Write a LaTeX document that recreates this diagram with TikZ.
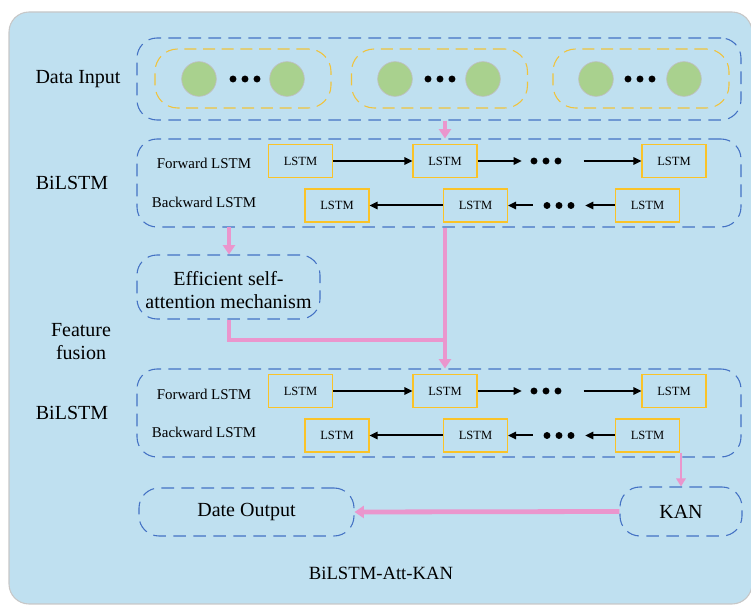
\documentclass[tikz,border=0pt]{standalone}
\usepackage{fontspec}
\setmainfont{Liberation Serif}
\usetikzlibrary{arrows.meta}
\definecolor{panel}{RGB}{191,224,240}
\definecolor{frameblue}{RGB}{68,114,196}
\definecolor{cellyellow}{RGB}{250,195,40}
\definecolor{groupyellow}{RGB}{240,195,60}
\definecolor{flowpink}{RGB}{234,150,205}
\definecolor{sample}{RGB}{169,209,142}
\tikzset{
  group/.style={draw=frameblue, line width=0.8pt, dash pattern=on 9.5pt off 5.5pt,
    rounded corners=15pt, inner sep=0pt},
  subgroup/.style={draw=groupyellow, line width=0.8pt, dash pattern=on 9pt off 5pt,
    rounded corners=17pt, inner sep=0pt, minimum width=132pt, minimum height=44.25pt},
  cell/.style={draw=cellyellow, line width=0.8pt, minimum width=48pt, minimum height=24.75pt,
    inner sep=0pt, font=\fontsize{9.4pt}{10pt}\selectfont},
  unit/.style={circle, fill=sample, draw=black!25, line width=0.5pt, minimum size=26pt, inner sep=0pt},
  bigtext/.style={font=\fontsize{15pt}{17.25pt}\selectfont, inner sep=0pt},
  rowtext/.style={font=\fontsize{11.2pt}{13pt}\selectfont, inner sep=0pt},
  dotsnode/.style={minimum height=10pt, inner sep=0pt},
  fwd/.style={-{Triangle[length=6pt,width=5.5pt]}, line width=1.5pt, black},
  flow/.style={-{Triangle[length=7pt,width=9pt]}, line width=3.6pt, flowpink},
  thinflow/.style={-{Triangle[length=6pt,width=7pt]}, line width=2.2pt, flowpink},
}
\newcommand{\threedots}[1]{%
  \fill (#1) circle (2.6pt);
  \fill ([xshift=-9pt]#1) circle (2.6pt);
  \fill ([xshift=9pt]#1) circle (2.6pt);}
\begin{document}
\begin{tikzpicture}[x=0.75pt,y=-0.75pt]
\useasboundingbox (0,0) rectangle (751,605);
% panel
\draw[fill=panel, draw=black!22, line width=0.8pt, rounded corners=15pt] (9,12) rectangle (752,604);

% ---------- data input ----------
\node[bigtext] (inlabel) at (78,79) {Data Input};
\node[group, minimum width=453pt, minimum height=61.5pt] (input) at (439,79) {};
\node[subgroup] (g1) at (243,78.5) {};
\node[subgroup] (g2) at (439.5,78.5) {};
\node[subgroup] (g3) at (641,78.5) {};
\node[unit] (u1a) at (199,79) {};
\node[unit] (u1b) at (287,79) {};
\node[unit] (u2a) at (395,79) {};
\node[unit] (u2b) at (483,79) {};
\node[unit] (u3a) at (596,79) {};
\node[unit] (u3b) at (684,79) {};
\node[dotsnode] (d1) at (245,79) {};
\node[dotsnode] (d2) at (440,79) {};
\node[dotsnode] (d3) at (640,79) {};
\threedots{d1}\threedots{d2}\threedots{d3}

% ---------- first BiLSTM ----------
\node[bigtext] (bl1) at (72,183) {BiLSTM};
\node[group, minimum width=453pt, minimum height=66pt] (bil1) at (439,183) {};
\node[rowtext] (fl1) at (204,163) {Forward LSTM};
\node[rowtext] (bk1) at (204,202) {Backward LSTM};
\node[cell] (fa) at (300.5,161) {LSTM};
\node[cell] (fb) at (445,161) {LSTM};
\node[cell] (fc) at (674,161) {LSTM};
\node[cell] (ba) at (337,205.5) {LSTM};
\node[cell] (bb) at (475.5,205.5) {LSTM};
\node[cell] (bc) at (647.5,205.5) {LSTM};
\node[dotsnode, minimum width=36pt] (fd) at (546,161) {};
\node[dotsnode, minimum width=39pt] (bd) at (559,205.5) {};
\threedots{fd}\threedots{bd}
\draw[fwd] (fa) -- (fb);
\draw[fwd] (fb) -- (fd);
\draw[fwd, shorten <=10pt] (fd) -- (fc);
\draw[fwd] (bc) -- (bd);
\draw[fwd] (bd) -- (bb);
\draw[fwd] (bb) -- (ba);

% ---------- attention ----------
\node[group, minimum width=137.25pt, minimum height=48pt] (att) at (228.5,287) {};
\node[bigtext, align=center] (atttext) at (228.5,290) {Efficient self-\\attention mechanism};
\node[bigtext, align=center] (fuse) at (81,342) {Feature\\fusion};

% ---------- second BiLSTM ----------
\node[bigtext] (bl2) at (72,413) {BiLSTM};
\node[group, minimum width=453pt, minimum height=66pt] (bil2) at (439,413) {};
\node[rowtext] (fl2) at (204,394) {Forward LSTM};
\node[rowtext] (bk2) at (204,432) {Backward LSTM};
\node[cell] (ga) at (300.5,391) {LSTM};
\node[cell] (gb) at (445,391) {LSTM};
\node[cell] (gc) at (674,391) {LSTM};
\node[cell] (ha) at (337,435.5) {LSTM};
\node[cell] (hb) at (475.5,435.5) {LSTM};
\node[cell] (hc) at (647.5,435.5) {LSTM};
\node[dotsnode, minimum width=36pt] (gd) at (546,391) {};
\node[dotsnode, minimum width=39pt] (hd) at (559,435.5) {};
\threedots{gd}\threedots{hd}
\draw[fwd] (ga) -- (gb);
\draw[fwd] (gb) -- (gd);
\draw[fwd, shorten <=10pt] (gd) -- (gc);
\draw[fwd] (hc) -- (hd);
\draw[fwd] (hd) -- (hb);
\draw[fwd] (hb) -- (ha);

% ---------- output ----------
\node[group, minimum width=161.25pt, minimum height=36pt] (out) at (246.5,512) {};
\node[bigtext] (outtext) at (246.5,512) {Date Output};
\node[group, minimum width=91.5pt, minimum height=36.75pt] (kan) at (681,511.5) {};
\node[bigtext] (kantext) at (681,512) {KAN};
\node[font=\fontsize{14pt}{16pt}\selectfont, inner sep=0pt] (title) at (381,573) {BiLSTM-Att-KAN};

% ---------- data flow ----------
\coordinate (split) at (229,227);
\coordinate (merge) at (445,340);
\draw[flow, line width=3pt] (fb |- input.south) -- (fb |- bil1.north);
\draw[flow] (split) -- (split |- att.north);
\draw[flowpink, line width=3.6pt] (split |- att.south) |- (merge);
\draw[flow] (fb |- bil1.south) -- (gb |- bil2.north);
\draw[thinflow] (hc.south -| kan.north) -- (kan.north);
\draw[flow] (kan.west) -- (out.east);
\end{tikzpicture}
\end{document}
